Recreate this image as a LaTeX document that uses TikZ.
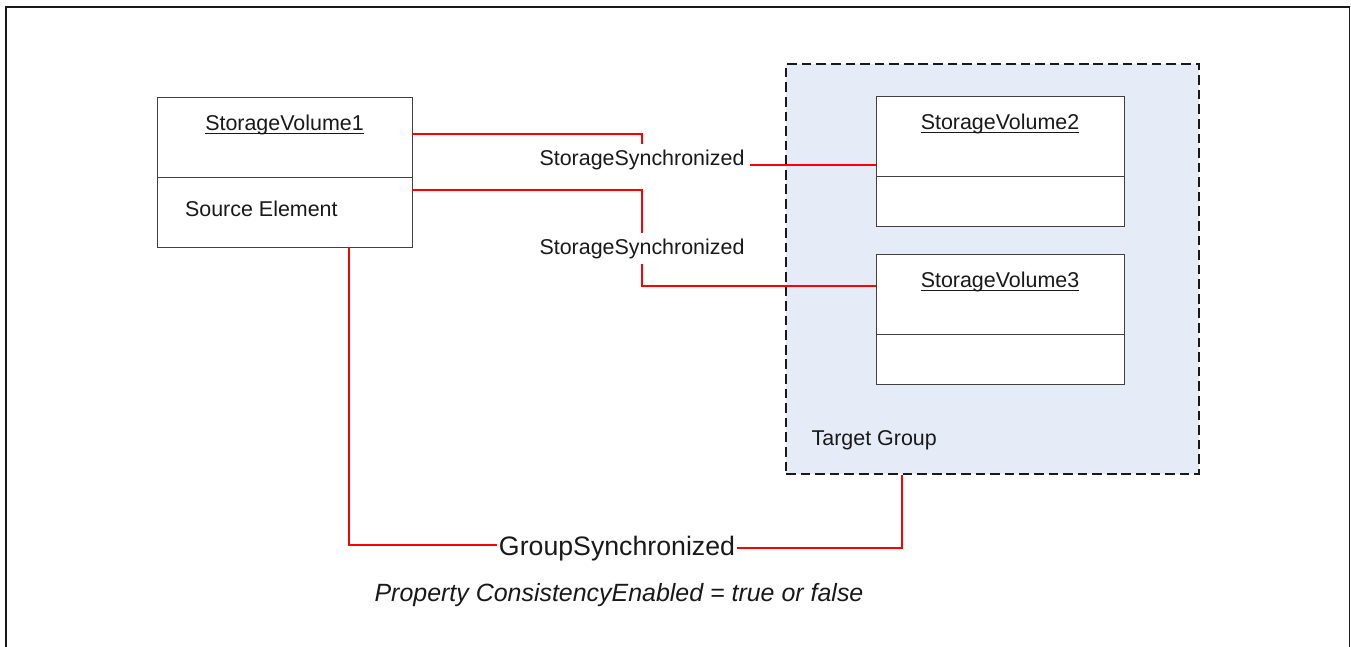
\documentclass[tikz,border=0pt]{standalone}
\usepackage{fontspec}
\setmainfont{Liberation Sans}
\usetikzlibrary{calc,positioning}
\definecolor{ink}{gray}{0.10}
\definecolor{edge}{gray}{0.25}
\definecolor{linkred}{RGB}{255,0,0}
\definecolor{groupfill}{RGB}{230,236,247}
\newcommand\ulname[1]{\underline{\smash{#1}}}

\begin{document}
\begin{tikzpicture}[x=0.02cm, y=-0.02cm, line width=0.6pt,
   part/.style={draw=edge, fill=white, inner sep=0pt, line width=0.5pt},
   group/.style={draw=ink, fill=groupfill, dash pattern=on 5.5pt off 2.8pt, line width=1pt, inner sep=0pt},
   lbl/.style={text=ink, font=\fontsize{12.2}{14}\selectfont, inner sep=0pt},
   assoc/.style={text=ink, font=\fontsize{12.2}{14}\selectfont, inner sep=3pt},
   conn/.style={draw=linkred, line width=1.4pt}]
  \useasboundingbox (0,0) rectangle (1351,646);
  % outer frame
  \draw[ink, line width=1.1pt] (6,680) -- (6,7) -- (1349.5,7) -- (1349.5,680);
  % target group
  \node[group, minimum width=8.26cm, minimum height=8.2cm] (tg) at (992.5,269) {};
  \node[lbl, anchor=base west] (tgl) at ($(tg.south west)+(26,-29)$) {Target Group};
  % source volume
  \node[part, minimum width=5.1cm, minimum height=1.6cm] (sv1a) at (284.5,137) {};
  \node[part, minimum width=5.1cm, minimum height=1.4cm, below=-0.5pt of sv1a] (sv1b) {};
  \node[lbl, anchor=base] (sv1n) at ($(sv1a.north)+(0,34)$) {\ulname{StorageVolume1}};
  \node[lbl, anchor=base west] (sv1s) at ($(sv1b.west)+(28,5)$) {Source Element};
  % target volumes
  \node[part, minimum width=4.96cm, minimum height=1.6cm] (sv2a) at (1000,136) {};
  \node[part, minimum width=4.96cm, minimum height=1.0cm, below=-0.5pt of sv2a] (sv2b) {};
  \node[lbl, anchor=base] (sv2n) at ($(sv2a.north)+(0,34)$) {\ulname{StorageVolume2}};
  \node[part, minimum width=4.96cm, minimum height=1.6cm] (sv3a) at (1000,294) {};
  \node[part, minimum width=4.96cm, minimum height=1.0cm, below=-0.5pt of sv3a] (sv3b) {};
  \node[lbl, anchor=base] (sv3n) at ($(sv3a.north)+(0,34)$) {\ulname{StorageVolume3}};
  % synchronization links
  \node[assoc, anchor=base] (s1) at (642,165) {StorageSynchronized};
  \node[assoc, anchor=base] (s2) at (642,254) {StorageSynchronized};
  \draw[conn] ($(sv1a.east)+(0,-3)$) -| (s1.north);
  \draw[conn] (s1.east |- s1.base) -- (s1.base -| sv2a.west);
  \draw[conn] ($(sv1b.east)+(0,-22)$) -| (s2.north);
  \draw[conn] (s2.south) |- ($(sv3a.west)+(0,-8)$);
  % group link
  \node[text=ink, font=\fontsize{15.2}{18}\selectfont, inner sep=1pt, anchor=base] (gs) at (617,555) {GroupSynchronized};
  \draw[conn] ($(sv1b.south)+(64.5,0)$) |- ($(gs.west)+(0,-3)$);
  \draw[conn] (gs.east) -| ($(tg.south)+(-90.5,0)$);
  \node[text=ink, font=\fontsize{14.2}{17}\selectfont\itshape, inner sep=0pt, anchor=base] (cons) at (619,601) {Property ConsistencyEnabled = true or false};
\end{tikzpicture}
\end{document}
